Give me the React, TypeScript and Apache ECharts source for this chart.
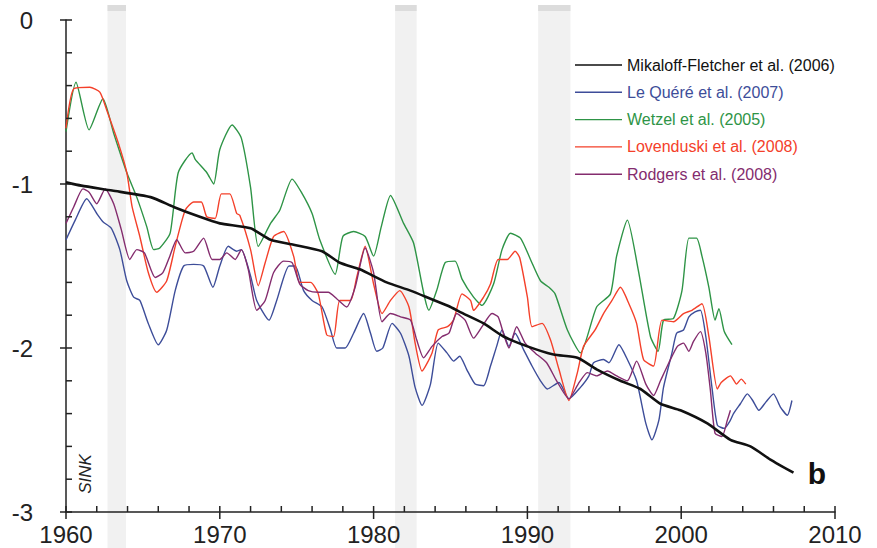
import React, { useEffect, useRef } from "react";
import * as echarts from "echarts";

const FONT = "Liberation Sans, Arial, Helvetica, sans-serif";

const seriesNames = [
  "Mikaloff-Fletcher et al. (2006)",
  "Le Quéré et al. (2007)",
  "Wetzel et al. (2005)",
  "Lovenduski et al. (2008)",
  "Rodgers et al. (2008)",
];
const seriesColors = ["#111111", "#3d4d99", "#2e9446", "#f4402a", "#842c6e"];

const xTickLabels = [1960, 1970, 1980, 1990, 2000, 2010];
const yTickLabels = [0, -1, -2, -3];
const xMinorTicks = [1962, 1964, 1966, 1968, 1972, 1974, 1976, 1978, 1982, 1984, 1986, 1988, 1992, 1994, 1996, 1998, 2002, 2004, 2006, 2008];
const yMinorTicks = [-0.2, -0.4, -0.6, -0.8, -1.2, -1.4, -1.6, -1.8, -2.2, -2.4, -2.6, -2.8];

// volcanic eruption bands [start year, end year]
const bands: [number, number][] = [
  [1962.7, 1963.9],
  [1981.4, 1982.8],
  [1990.7, 1992.8],
];

const mikaloff: [number, number][] = [
  [1960.0, -0.99], [1961.0, -1.01], [1963.0, -1.04], [1965.5, -1.08], [1967.0, -1.14],
  [1968.7, -1.2], [1970.0, -1.24], [1972.0, -1.27], [1973.3, -1.34], [1974.8, -1.37],
  [1976.65, -1.41], [1977.8, -1.48], [1979.1, -1.52], [1980.85, -1.6], [1982.4, -1.65],
  [1983.7, -1.7], [1985.0, -1.75], [1985.6, -1.78], [1987.15, -1.85], [1988.45, -1.93],
  [1990.0, -1.99], [1991.7, -2.04], [1993.25, -2.06], [1994.5, -2.13], [1996.05, -2.2],
  [1997.35, -2.25], [1998.65, -2.34], [1999.95, -2.38], [2001.7, -2.46], [2003.2, -2.56],
  [2004.5, -2.6], [2005.8, -2.68], [2007.3, -2.76],
];

const leQuere: [number, number][] = [
  [1960.0, -1.34], [1960.6, -1.22], [1961.35, -1.09], [1962.0, -1.18], [1962.4, -1.23],
  [1962.95, -1.27], [1963.5, -1.4], [1963.95, -1.59], [1964.4, -1.69], [1964.8, -1.71],
  [1965.35, -1.85], [1966.0, -1.98], [1966.55, -1.89], [1967.1, -1.65], [1967.65, -1.5],
  [1968.3, -1.49], [1968.95, -1.5], [1969.55, -1.63], [1970.0, -1.5], [1970.55, -1.38],
  [1971.1, -1.41], [1971.4, -1.4], [1972.0, -1.56], [1972.4, -1.71], [1973.2, -1.83],
  [1973.7, -1.71], [1974.5, -1.5], [1974.9, -1.5], [1975.45, -1.65], [1976.0, -1.71],
  [1976.65, -1.75], [1977.2, -1.89], [1977.6, -2.0], [1978.15, -2.0], [1978.7, -1.91],
  [1979.35, -1.79], [1979.8, -1.91], [1980.2, -2.02], [1980.6, -2.0], [1981.2, -1.85],
  [1981.75, -1.91], [1982.3, -2.05], [1982.7, -2.24], [1983.15, -2.35], [1983.7, -2.22],
  [1984.2, -1.97], [1984.77, -2.03], [1985.2, -2.08], [1985.6, -2.05], [1986.05, -2.13],
  [1986.6, -2.22], [1987.15, -2.23], [1987.6, -2.11], [1988.0, -1.99], [1988.35, -1.89],
  [1988.8, -1.99], [1989.2, -1.91], [1989.75, -2.01], [1990.3, -2.11], [1990.85, -2.2],
  [1991.3, -2.25], [1992.05, -2.21], [1992.7, -2.31], [1993.45, -2.24], [1994.0, -2.17],
  [1994.3, -2.09], [1994.95, -2.07], [1995.3, -2.09], [1995.95, -1.98], [1996.5, -2.07],
  [1997.1, -2.2], [1997.7, -2.46], [1998.1, -2.56], [1998.55, -2.44], [1998.85, -2.24],
  [1999.4, -2.03], [1999.7, -1.91], [2000.15, -1.89], [2000.5, -1.81], [2000.9, -1.78],
  [2001.25, -1.77], [2001.6, -1.93], [2002.0, -2.24], [2002.35, -2.47], [2002.8, -2.49],
  [2003.2, -2.44], [2003.4, -2.4], [2003.85, -2.34], [2004.3, -2.28], [2004.65, -2.32],
  [2005.05, -2.38], [2005.5, -2.33], [2006.0, -2.28], [2006.45, -2.36], [2006.9, -2.41],
  [2007.2, -2.32],
];

const wetzel: [number, number][] = [
  [1960.0, -0.68], [1960.65, -0.38], [1961.5, -0.67], [1962.4, -0.48], [1963.1, -0.69],
  [1963.95, -0.93], [1964.6, -1.08], [1965.25, -1.26], [1965.7, -1.4], [1966.1, -1.39],
  [1966.77, -1.3], [1967.3, -0.93], [1968.2, -0.81], [1968.4, -0.85], [1969.15, -0.93],
  [1969.6, -1.0], [1970.0, -0.79], [1970.8, -0.64], [1971.4, -0.72], [1972.0, -1.02],
  [1972.5, -1.38], [1973.3, -1.24], [1973.9, -1.16], [1974.7, -0.97], [1975.3, -1.05],
  [1976.0, -1.18], [1976.5, -1.34], [1977.5, -1.55], [1978.0, -1.32], [1978.7, -1.29],
  [1979.45, -1.32], [1980.0, -1.44], [1980.5, -1.26], [1981.1, -1.07], [1981.95, -1.24],
  [1982.6, -1.36], [1983.6, -1.77], [1984.1, -1.65], [1984.65, -1.48], [1985.3, -1.47],
  [1985.75, -1.58], [1986.5, -1.69], [1987.05, -1.74], [1987.8, -1.61], [1988.35, -1.4],
  [1988.9, -1.3], [1989.55, -1.33], [1990.2, -1.46], [1990.85, -1.59], [1991.4, -1.63],
  [1991.8, -1.67], [1992.6, -1.89], [1993.45, -2.03], [1994.5, -1.75], [1995.4, -1.67],
  [1995.8, -1.44], [1996.5, -1.22], [1997.2, -1.52], [1998.0, -1.93], [1998.5, -2.02],
  [1998.85, -1.83], [1999.5, -1.82], [2000.05, -1.65], [2000.5, -1.33], [2001.0, -1.33],
  [2001.35, -1.44], [2001.8, -1.63], [2002.2, -1.83], [2002.45, -1.76], [2002.8, -1.9],
  [2003.3, -1.98],
];

const lovenduski: [number, number][] = [
  [1960.0, -0.66], [1960.5, -0.42], [1961.55, -0.41], [1962.2, -0.44], [1962.65, -0.55],
  [1963.4, -0.75], [1963.95, -0.93], [1964.3, -1.14], [1964.8, -1.32], [1965.35, -1.54],
  [1965.9, -1.66], [1966.55, -1.59], [1967.1, -1.38], [1967.75, -1.16], [1968.3, -1.11],
  [1968.8, -1.11], [1969.15, -1.2], [1969.7, -1.21], [1970.1, -1.06], [1970.65, -1.06],
  [1971.1, -1.18], [1971.3, -1.19], [1972.0, -1.4], [1972.5, -1.62], [1972.95, -1.48],
  [1973.5, -1.32], [1974.15, -1.29], [1974.8, -1.44], [1975.2, -1.6], [1975.9, -1.6],
  [1976.4, -1.67], [1976.95, -1.92], [1977.4, -1.93], [1977.8, -1.71], [1978.5, -1.71],
  [1978.9, -1.57], [1979.45, -1.38], [1980.0, -1.61], [1980.55, -1.79], [1981.1, -1.71],
  [1981.7, -1.65], [1982.3, -1.75], [1982.7, -1.97], [1983.15, -2.14], [1983.8, -2.03],
  [1984.2, -1.89], [1984.8, -1.87], [1985.2, -1.83], [1985.75, -1.67], [1986.3, -1.71],
  [1986.5, -1.77], [1987.15, -1.69], [1987.6, -1.61], [1988.1, -1.46], [1988.7, -1.46],
  [1989.2, -1.41], [1989.5, -1.45], [1990.0, -1.69], [1990.3, -1.87], [1990.95, -1.85],
  [1991.5, -1.95], [1992.05, -2.13], [1992.7, -2.32], [1993.25, -2.15], [1993.65, -1.99],
  [1994.4, -1.89], [1994.95, -1.79], [1995.5, -1.71], [1996.05, -1.63], [1996.6, -1.73],
  [1997.1, -1.85], [1997.55, -2.07], [1998.2, -2.11], [1998.75, -1.83], [1999.5, -1.84],
  [2000.15, -1.79], [2000.7, -1.77], [2001.35, -1.73], [2001.8, -1.93], [2002.35, -2.25],
  [2002.6, -2.21], [2003.2, -2.17], [2003.6, -2.22], [2003.9, -2.19], [2004.2, -2.22],
];

const rodgers: [number, number][] = [
  [1960.0, -1.24], [1960.5, -1.14], [1961.1, -1.03], [1961.5, -1.05], [1962.0, -1.12],
  [1962.55, -1.03], [1963.1, -1.12], [1963.6, -1.28], [1964.15, -1.46], [1964.6, -1.4],
  [1965.1, -1.42], [1965.8, -1.57], [1966.3, -1.54], [1966.75, -1.44], [1967.2, -1.34],
  [1967.75, -1.42], [1968.3, -1.41], [1968.95, -1.33], [1969.5, -1.46], [1970.0, -1.46],
  [1970.45, -1.42], [1971.0, -1.46], [1971.4, -1.4], [1971.85, -1.52], [1972.4, -1.77],
  [1972.95, -1.71], [1973.5, -1.54], [1974.15, -1.47], [1974.7, -1.48], [1975.2, -1.61],
  [1975.75, -1.65], [1976.4, -1.66], [1977.05, -1.66], [1977.6, -1.7], [1978.25, -1.75],
  [1978.8, -1.63], [1979.45, -1.39], [1980.0, -1.54], [1980.55, -1.84], [1981.1, -1.79],
  [1981.75, -1.81], [1982.4, -1.83], [1982.8, -1.95], [1983.25, -2.06], [1983.8, -1.99],
  [1984.45, -1.93], [1984.9, -1.91], [1985.4, -1.79], [1985.95, -1.83], [1986.5, -1.94],
  [1987.05, -1.87], [1987.7, -1.79], [1988.1, -1.81], [1988.5, -1.93], [1988.8, -2.0],
  [1989.3, -1.87], [1989.85, -1.97], [1990.5, -2.03], [1991.25, -2.09], [1991.9, -2.2],
  [1992.7, -2.31], [1993.3, -2.22], [1993.9, -2.15], [1994.5, -2.17], [1995.2, -2.14],
  [1995.8, -2.17], [1996.5, -2.2], [1997.1, -2.08], [1997.7, -2.22], [1998.2, -2.29],
  [1998.65, -2.2], [1999.2, -2.09], [1999.75, -1.99], [2000.15, -1.97], [2000.5, -2.02],
  [2000.8, -1.96], [2001.25, -1.9], [2001.6, -2.03], [2001.9, -2.26], [2002.2, -2.52],
  [2002.65, -2.54], [2003.0, -2.44], [2003.2, -2.38],
];

const seriesData = [mikaloff, leQuere, wetzel, lovenduski, rodgers];
const lineWidths = [2.6, 1.4, 1.4, 1.4, 1.4];

const LEGEND_LINE = "path://M0,0L0.01,0Z M0,7.3H47V8.7H0Z M0,16L0.01,16Z";

export default function App() {
  const ref = useRef<HTMLDivElement>(null);
  useEffect(() => {
    const chart = echarts.init(ref.current!, null, { renderer: "svg" });
    const axisColor = "#222";
    const xMin = xTickLabels[0];
    const xMax = xTickLabels[xTickLabels.length - 1];
    const yMin = yTickLabels[yTickLabels.length - 1];
    const yMax = yTickLabels[0];

    const lineSeries = [1, 2, 3, 4, 0].map((i) => ({
      name: seriesNames[i],
      type: "line",
      xAxisIndex: 0,
      yAxisIndex: 0,
      data: seriesData[i],
      symbol: "none",
      showSymbol: false,
      smooth: 0.2,
      color: seriesColors[i],
      itemStyle: { color: seriesColors[i] },
      lineStyle: { color: seriesColors[i], width: lineWidths[i] },
      z: 3,
    }));

    // tick marks, each placed through the axes' scales: [x, y, major?]
    const xTickData = [
      ...xTickLabels.map((v) => [v, yMin, 1]),
      ...xMinorTicks.map((v) => [v, yMin, 0]),
    ];
    const yTickData = [
      ...yTickLabels.map((v) => [xMin, v, 1]),
      ...yMinorTicks.map((v) => [xMin, v, 0]),
    ];
    const tickStyle = { stroke: axisColor, lineWidth: 1.5 };

    chart.setOption({
      animation: false,
      grid: [
        { left: 66, right: 42, top: 20, bottom: 36 },
        { left: 66, right: 42, top: 5, bottom: 0 },
      ],
      xAxis: [
        {
          gridIndex: 0, type: "value", min: xMin, max: xMax, interval: 10,
          position: "bottom",
          axisLine: { show: true, onZero: false, lineStyle: { color: axisColor, width: 1.5 } },
          axisTick: { show: false },
          axisLabel: { show: true, fontSize: 24, color: axisColor, margin: 10, fontFamily: FONT, formatter: (v: number) => String(v) },
          splitLine: { show: false },
        },
        { gridIndex: 1, type: "value", min: xMin, max: xMax, show: false },
      ],
      yAxis: [
        {
          gridIndex: 0, type: "value", min: yMin, max: yMax, interval: 1,
          position: "left",
          axisLine: { show: true, onZero: false, lineStyle: { color: axisColor, width: 1.5 } },
          axisTick: { show: false },
          axisLabel: { show: true, fontSize: 24, color: axisColor, margin: 33, fontFamily: FONT },
          splitLine: { show: false },
        },
        { gridIndex: 1, type: "value", min: 0, max: 1, show: false },
      ],
      legend: {
        orient: "vertical",
        left: 570,
        top: 52,
        itemWidth: 47,
        itemHeight: 16,
        itemGap: 11.3,
        icon: LEGEND_LINE,
        data: seriesNames.map((n, i) => ({ name: n, icon: LEGEND_LINE, itemStyle: { color: seriesColors[i] }, textStyle: { color: seriesColors[i] } })),
        textStyle: { fontSize: 16, fontFamily: FONT },
        selectedMode: false,
      },
      graphic: [
        {
          type: "text", x: 85, y: 474, rotation: Math.PI / 2,
          style: { text: "SINK", fontSize: 17, fontStyle: "italic", fontFamily: FONT, fill: "#222", align: "center", verticalAlign: "middle" },
        },
        {
          type: "text", x: 817, y: 473,
          style: { text: "b", fontSize: 30, fontWeight: "bold", fontFamily: FONT, fill: "#111", align: "center", verticalAlign: "middle" },
        },
      ],
      series: [
        {
          type: "custom",
          xAxisIndex: 1,
          yAxisIndex: 1,
          silent: true,
          z: -1,
          clip: false,
          data: bands.map((b) => [b[0], b[1]]),
          renderItem: (params: any, api: any) => {
            const s = api.coord([api.value(0), 1]);
            const e = api.coord([api.value(1), 0]);
            return {
              type: "group",
              children: [
                { type: "rect", shape: { x: s[0], y: s[1], width: e[0] - s[0], height: e[1] - s[1] }, style: { fill: "#f1f1f1" } },
                { type: "rect", shape: { x: s[0], y: s[1], width: e[0] - s[0], height: 6 }, style: { fill: "#dcdcdc" } },
              ],
            };
          },
        },
        {
          type: "custom",
          xAxisIndex: 0,
          yAxisIndex: 0,
          silent: true,
          clip: false,
          z: 10,
          data: xTickData,
          renderItem: (params: any, api: any) => {
            const p = api.coord([api.value(0), api.value(1)]);
            const major = api.value(2) === 1;
            return {
              type: "line",
              shape: { x1: p[0], y1: p[1] - 6, x2: p[0], y2: p[1] + (major ? 7 : 0) },
              style: tickStyle,
            };
          },
        },
        {
          type: "custom",
          xAxisIndex: 0,
          yAxisIndex: 0,
          silent: true,
          clip: false,
          z: 10,
          data: yTickData,
          renderItem: (params: any, api: any) => {
            const p = api.coord([api.value(0), api.value(1)]);
            const major = api.value(2) === 1;
            return {
              type: "line",
              shape: { x1: p[0] - (major ? 6 : 0), y1: p[1], x2: p[0] + 6, y2: p[1] },
              style: tickStyle,
            };
          },
        },
        ...lineSeries,
      ],
    });
    return () => chart.dispose();
  }, []);
  return (
    <div
      ref={ref}
      style={{ position: "fixed", left: 0, top: 0, width: 877, height: 548, background: "#fff" }}
    />
  );
}
